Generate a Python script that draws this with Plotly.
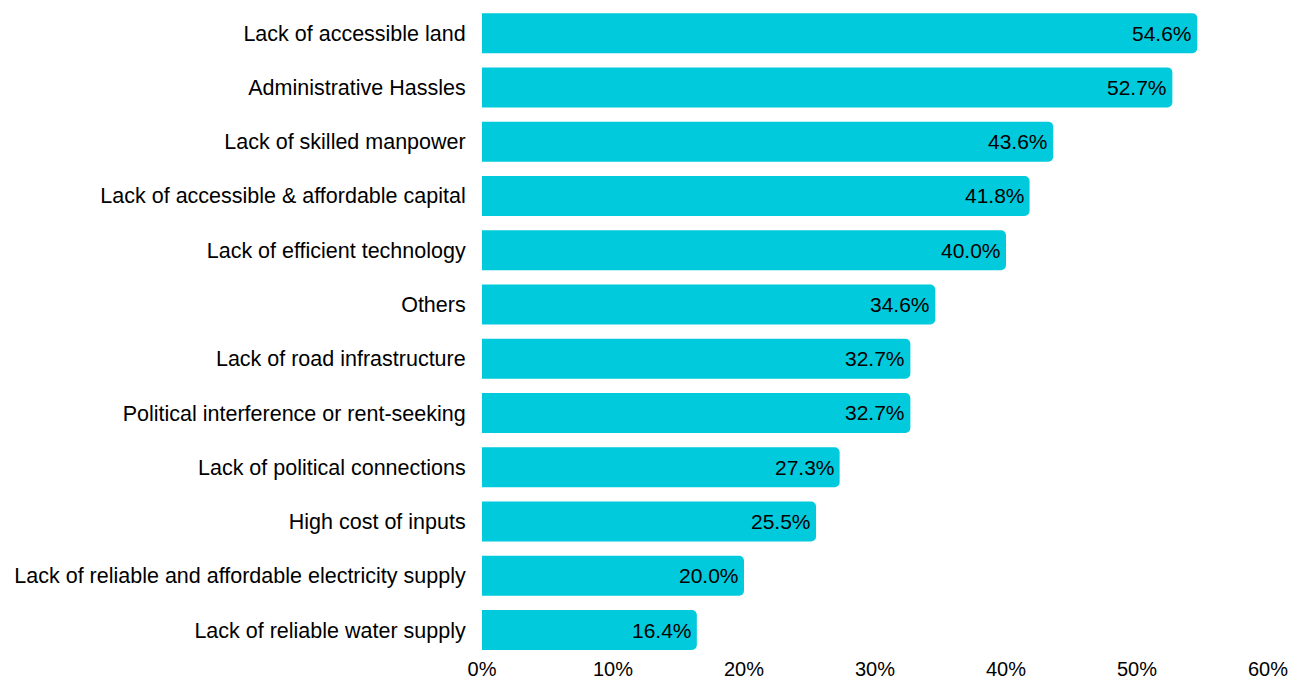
import plotly.graph_objects as go

categories = [
    "Lack of accessible land",
    "Administrative Hassles",
    "Lack of skilled manpower",
    "Lack of accessible & affordable capital",
    "Lack of efficient technology",
    "Others",
    "Lack of road infrastructure",
    "Political interference or rent-seeking",
    "Lack of political connections",
    "High cost of inputs",
    "Lack of reliable and affordable electricity supply",
    "Lack of reliable water supply",
]
shares = [54.6, 52.7, 43.6, 41.8, 40.0, 34.6, 32.7, 32.7, 27.3, 25.5, 20.0, 16.4]
tick_values = [0, 10, 20, 30, 40, 50, 60]
tick_labels = ["0%", "10%", "20%", "30%", "40%", "50%", "60%"]

FONT = "Liberation Sans, Arial, sans-serif"
BAR_COLOR = "#00CADC"
value_labels = [f"{v:.1f}%" for v in shares]

fig = go.Figure()

# bars with rounded outer ends
fig.add_trace(
    go.Bar(
        x=shares,
        y=categories,
        orientation="h",
        marker=dict(color=BAR_COLOR, line=dict(width=0)),
        hoverinfo="skip",
    )
)

# value labels tucked just inside the end of each bar
for cat, val, lab in zip(categories, shares, value_labels):
    fig.add_annotation(
        x=val,
        y=cat,
        xref="x",
        yref="y",
        text=lab,
        showarrow=False,
        xanchor="right",
        yanchor="middle",
        xshift=-3,
        yshift=0,
        font=dict(family=FONT, size=21, color="#000000"),
    )

n = len(categories)
fig.update_layout(
    width=1294,
    height=679,
    margin=dict(l=482, r=26, t=6, b=24),
    paper_bgcolor="white",
    plot_bgcolor="white",
    bargap=0.263,
    barcornerradius=5,
    showlegend=False,
    font=dict(family=FONT, size=18, color="#000000"),
    xaxis=dict(
        range=[0, 60],
        tickvals=tick_values,
        ticktext=tick_labels,
        showgrid=False,
        zeroline=False,
        showline=False,
        ticks="",
        automargin=False,
        tickfont=dict(family=FONT, size=20, color="#000000"),
    ),
    yaxis=dict(
        range=[n - 0.54, -0.5],
        showgrid=False,
        zeroline=False,
        showline=False,
        ticks="outside",
        ticklen=11,
        tickcolor="rgba(0,0,0,0)",
        automargin=False,
        tickfont=dict(family=FONT, size=21.5, color="#000000"),
    ),
)

fig.write_html("out.html")
